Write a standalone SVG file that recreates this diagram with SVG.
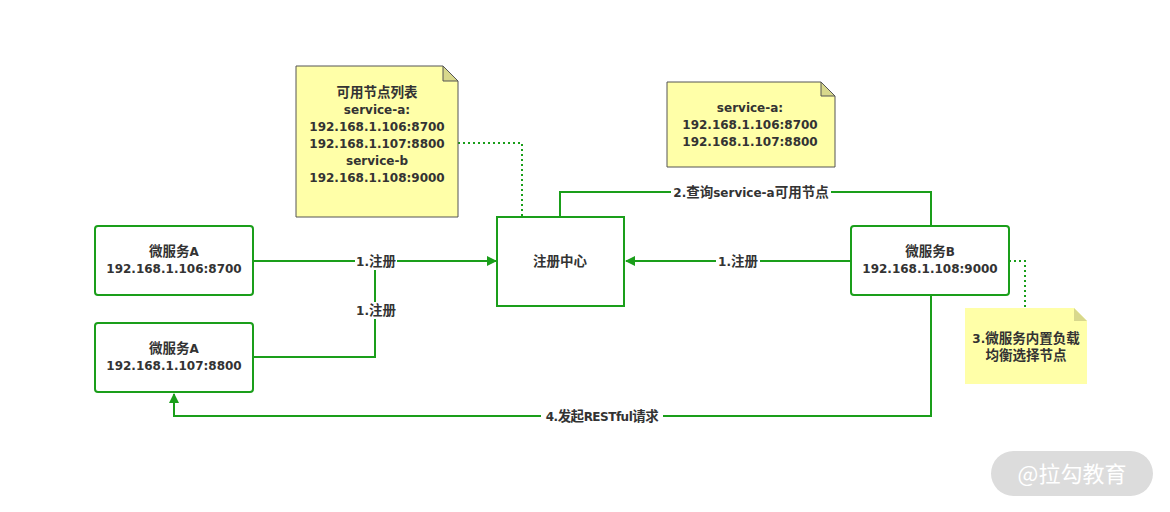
<svg xmlns="http://www.w3.org/2000/svg" width="1170" height="512" viewBox="0 0 1170 512">
<defs>
<style>
.t{font-family:"DejaVu Sans","Noto Sans CJK SC",sans-serif;font-size:12px;font-weight:bold;fill:#333;text-anchor:middle}
.cj{font-size:13.5px}
.node{fill:#fff;stroke:#1a9e1a;stroke-width:2}
.note{fill:#ffffa8;stroke:#555;stroke-width:1}
.fold{fill:#d8d88c;stroke:#555;stroke-width:1}
.c{fill:none;stroke:#1a9e1a;stroke-width:2}
.d{fill:none;stroke:#1a9e1a;stroke-width:2;stroke-dasharray:2 3}
.lbl{fill:#fff}
</style>
<marker id="arr" markerWidth="10" markerHeight="10" refX="9" refY="5" orient="auto" markerUnits="userSpaceOnUse">
<path d="M0,0 L10,5 L0,10 Z" fill="#1a9e1a"/>
</marker>
</defs>
<rect width="1170" height="512" fill="#fff"/>

<g id="connectors">
<path class="c" d="M253,261 H496" marker-end="url(#arr)"/>
<path class="c" d="M253,357 H375 V262"/>
<path class="c" d="M851,261 H626" marker-end="url(#arr)"/>
<path class="c" d="M560,217 V192 H931 V226"/>
<path class="c" d="M931,295 V416 H174 V394" marker-end="url(#arr)"/>
<path class="d" d="M458,143 H522 V217"/>
<path class="d" d="M1009,261 H1025 V308"/>
<rect class="lbl" x="355" y="253" width="42" height="17"/>
<text class="t" x="376" y="266">1.<tspan class="cj">注册</tspan></text>
<rect class="lbl" x="355" y="302" width="42" height="17"/>
<text class="t" x="376" y="315">1.<tspan class="cj">注册</tspan></text>
<rect class="lbl" x="716" y="253" width="44" height="17"/>
<text class="t" x="738" y="266">1.<tspan class="cj">注册</tspan></text>
<rect class="lbl" x="671" y="184" width="160" height="17"/>
<text class="t" x="751" y="197">2.<tspan class="cj">查询</tspan>service-a<tspan class="cj">可用节点</tspan></text>
<rect class="lbl" x="541" y="408" width="122" height="17"/>
<text class="t" x="602" y="421" style="letter-spacing:-0.5px">4.<tspan class="cj">发起</tspan>RESTful<tspan class="cj">请求</tspan></text>
</g>

<g id="note1">
<path class="note" d="M296,66 H443 L458,81 V217 H296 Z"/>
<path class="fold" d="M443,66 V81 H458 Z"/>
<text class="t cj" x="377" y="97">可用节点列表</text>
<text class="t" x="377" y="114">service-a:</text>
<text class="t" x="377" y="131">192.168.1.106:8700</text>
<text class="t" x="377" y="148">192.168.1.107:8800</text>
<text class="t" x="377" y="165">service-b</text>
<text class="t" x="377" y="182">192.168.1.108:9000</text>
</g>

<g id="note2">
<path class="note" d="M667,82 H821 L835,96 V167 H667 Z"/>
<path class="fold" d="M821,82 V96 H835 Z"/>
<text class="t" x="750" y="112">service-a:</text>
<text class="t" x="750" y="129">192.168.1.106:8700</text>
<text class="t" x="750" y="146">192.168.1.107:8800</text>
</g>

<g id="note3">
<path d="M965,308 H1074 L1087,321 V384 H965 Z" fill="#ffffa8"/>
<path d="M1074,308 V321 H1087 Z" fill="#d8d88c"/>
<text class="t" x="1026" y="343">3.<tspan class="cj">微服务内置负载</tspan></text>
<text class="t cj" x="1026" y="360">均衡选择节点</text>
</g>

<g id="nodeA1">
<rect class="node" x="95" y="226" width="158" height="69" rx="3"/>
<text class="t" x="174" y="256"><tspan class="cj">微服务</tspan>A</text>
<text class="t" x="174" y="273">192.168.1.106:8700</text>
</g>

<g id="nodeA2">
<rect class="node" x="95" y="323" width="158" height="69" rx="3"/>
<text class="t" x="174" y="353"><tspan class="cj">微服务</tspan>A</text>
<text class="t" x="174" y="370">192.168.1.107:8800</text>
</g>

<g id="registry">
<rect class="node" x="497" y="217" width="127" height="89"/>
<text class="t cj" x="560" y="266">注册中心</text>
</g>

<g id="nodeB">
<rect class="node" x="851" y="226" width="158" height="69" rx="3"/>
<text class="t" x="930" y="256"><tspan class="cj">微服务</tspan>B</text>
<text class="t" x="930" y="273">192.168.1.108:9000</text>
</g>

<g id="watermark">
<rect x="991" y="451" width="162" height="45" rx="22.5" fill="#dcdcdc"/>
<text x="1072" y="482" style="font-family:'Noto Sans CJK SC',sans-serif;font-size:22px;fill:#fff;text-anchor:middle">@拉勾教育</text>
</g>
</svg>
